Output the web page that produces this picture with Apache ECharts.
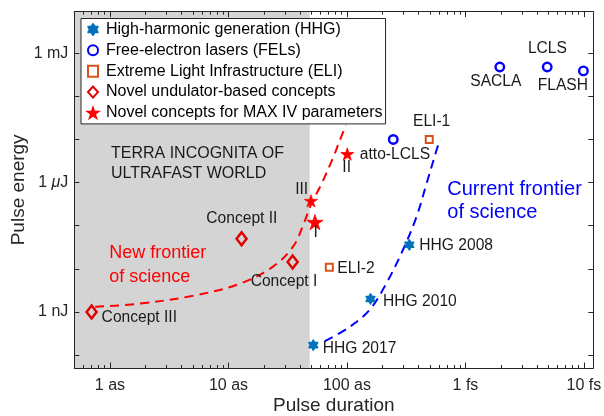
<!DOCTYPE html>
<html><head><meta charset="utf-8">
<script src="https://cdn.jsdelivr.net/npm/echarts@6/dist/echarts.min.js"></script>
<style>html,body{margin:0;padding:0;background:#fff}#c{width:604px;height:416px}</style>
</head><body><div id="c"></div>
<script>
// ---------- data: durations in attoseconds, energies in joules ----------
const hhgNames = ['HHG 2017', 'HHG 2010', 'HHG 2008'];
const hhgDuration = [52, 158, 336];
const hhgEnergy = [1.7e-10, 2.0e-9, 3.6e-8];

const felNames = ['SACLA', 'LCLS', 'FLASH', 'atto-LCLS'];
const felDuration = [1950, 4900, 9900, 246];
const felEnergy = [4.8e-4, 4.8e-4, 3.9e-4, 1.0e-5];

const eliNames = ['ELI-1', 'ELI-2'];
const eliDuration = [495, 71];
const eliEnergy = [1.0e-5, 1.08e-8];

const conceptNames = ['Concept III', 'Concept II', 'Concept I'];
const conceptDuration = [0.7, 12.9, 34.8];
const conceptEnergy = [1.0e-9, 5.0e-8, 1.43e-8];

const maxivNames = ['III', 'I', 'II'];
const maxivDuration = [49.7, 53.7, 100.6];
const maxivEnergy = [3.77e-7, 1.21e-7, 4.6e-6];

const newFrontierDuration = [0.75, 1.8, 5.05, 12.5, 23.9, 35.2, 42.5, 49.7, 61.5, 76.2, 87.3, 98];
const newFrontierEnergy = [1.31e-9, 1.56e-9, 2.38e-9, 4.5e-9, 1.14e-8, 3.3e-8, 1.0e-7, 3.05e-7, 9.8e-7, 3.73e-6, 9.7e-6, 2.15e-5];

const currentFrontierDuration = [65, 103, 156, 216, 298, 387, 471, 571, 610];
const currentFrontierEnergy = [2.1e-10, 4.3e-10, 1.13e-9, 4.7e-9, 2.8e-8, 1.63e-7, 9.7e-7, 5.7e-6, 1.0e-5];

const terraIncognitaUpTo = 48.5; // as

const seriesNames = ['High-harmonic generation (HHG)', 'Free-electron lasers (FELs)',
  'Extreme Light Infrastructure (ELI)', 'Novel undulator-based concepts', 'Novel concepts for MAX IV parameters'];

const xTickValues = [1, 10, 100, 1000, 10000];
const xTickLabels = ['1 as', '10 as', '100 as', '1 fs', '10 fs'];
const yTickValues = [1e-9, 1e-6, 1e-3];
const yTickLabels = ['1 nJ', '1 μJ', '1 mJ'];
const yDecadeTicks = [1e-10, 1e-9, 1e-8, 1e-7, 1e-6, 1e-5, 1e-4, 1e-3];
const xMin = 0.5, xMax = 12000, yMin = 5e-11, yMax = 9.2e-3;

// ---------- presentation ----------
const FONT = '"Liberation Sans", Arial, Helvetica, sans-serif';
const INK = '#262626';
const xMinorTicks = [];
[0.1, 1, 10, 100, 1000, 10000].forEach(d => { for (let k = 2; k <= 9; k++) { const v = d * k; if (v > xMin && v < xMax) xMinorTicks.push(v); } });

const hhgLabelPos = [{a:'left',dx:9.4,dy:4},{a:'left',dx:12.6,dy:2.7},{a:'left',dx:10,dy:0.7}];
const felLabelPos = [{a:'center',dx:-4,dy:15},{a:'center',dx:0.2,dy:-18.4},{a:'center',dx:-20.5,dy:15.3},{a:'center',dx:1.7,dy:15.7}];
const eliLabelPos = [{a:'center',dx:2.4,dy:-17.6},{a:'left',dx:8,dy:1.6}];
const conceptLabelPos = [{a:'left',dx:10,dy:6},{a:'center',dx:0.3,dy:-20},{a:'left',dx:-42,dy:20}];
const maxivLabelPos = [{a:'center',dx:-9.3,dy:-11},{a:'center',dx:0.7,dy:11},{a:'center',dx:-0.6,dy:13.5}];
const maxivSizes = [13, 16, 13];

function items(xs, ys, names, pos, sizes) {
  return xs.map((x, i) => {
    const it = { value: [x, ys[i]], name: names[i],
      label: { show: true, position: 'inside', formatter: '{b}', align: pos[i].a, verticalAlign: 'middle',
        offset: [pos[i].dx, pos[i].dy], fontSize: 15.6, fontFamily: FONT, color: '#1a1a1a' } };
    if (sizes) it.symbolSize = sizes[i];
    return it;
  });
}
function pairs(xs, ys) { return xs.map((x, i) => [x, ys[i]]); }

const hexagram = 'path://M50,0 L64.4,25 L93.3,25 L78.9,50 L93.3,75 L64.4,75 L50,100 L35.6,75 L6.7,75 L21.1,50 L6.7,25 L35.6,25 Z';
const star = 'path://M50,0 L61.2,34.5 L97.6,34.5 L68.2,55.9 L79.4,90.5 L50,69.1 L20.6,90.5 L31.8,55.9 L2.4,34.5 L38.8,34.5 Z';

const lineStyle = { color: INK, width: 1 };
function xAx(pos, major, showLine) {
  return { type: 'log', min: xMin, max: xMax, position: pos, z: 10,
    axisLine: { show: showLine, onZero: false, lineStyle },
    axisTick: { show: true, inside: true, length: major ? 5.5 : 3, customValues: major ? xTickValues : xMinorTicks, lineStyle },
    axisLabel: { show: false }, splitLine: { show: false }, minorTick: { show: false } };
}
const xAxes = [xAx('bottom', true, true), xAx('bottom', false, false), xAx('top', true, true), xAx('top', false, false)];
Object.assign(xAxes[0], {
  axisLabel: { show: true, customValues: xTickValues, margin: 10, fontSize: 16, fontFamily: FONT, color: INK,
    formatter: v => { const i = xTickValues.findIndex(t => Math.abs(t - v) / t < 1e-6); return i >= 0 ? xTickLabels[i] : ''; } },
  name: 'Pulse duration', nameLocation: 'middle', nameGap: 28, nameMoveOverlap: false,
  nameTextStyle: { fontSize: 19, fontFamily: FONT, color: INK }
});
function yAx(pos) {
  return { type: 'log', min: yMin, max: yMax, position: pos, z: 10,
    axisLine: { show: true, onZero: false, lineStyle },
    axisTick: { show: true, inside: true, length: 5, customValues: yDecadeTicks, lineStyle },
    axisLabel: { show: false }, splitLine: { show: false }, minorTick: { show: false } };
}
const yAxes = [yAx('left'), yAx('right')];
Object.assign(yAxes[0], {
  axisLabel: { show: true, customValues: yTickValues, margin: 6, fontSize: 16, fontFamily: FONT, color: INK,
    formatter: v => { const i = yTickValues.findIndex(t => Math.abs(t - v) / t < 1e-6); return i >= 0 ? yTickLabels[i].replace('μ', '{it|μ}') : ''; },
    rich: { it: { fontStyle: 'italic', fontSize: 16, fontFamily: FONT, color: INK } } },
  name: 'Pulse energy', nameLocation: 'middle', nameGap: 46, nameMoveOverlap: false,
  nameTextStyle: { fontSize: 19, fontFamily: FONT, color: INK }
});

const chart = echarts.init(document.getElementById('c'), null, { renderer: 'canvas' });
chart.setOption({
  animation: false,
  backgroundColor: '#fff',
  grid: { left: 74.3, right: 10.7, top: 11.7, bottom: 48, containLabel: false, outerBoundsMode: 'none' },
  xAxis: xAxes,
  yAxis: yAxes,
  legend: {
    data: seriesNames, orient: 'vertical', left: 81, top: 18.5, z: 20,
    backgroundColor: '#fff', borderColor: INK, borderWidth: 1, borderRadius: 0,
    padding: [1, 3, 1, 6], itemGap: 0.85, itemWidth: 10, itemHeight: 11,
    textStyle: { fontSize: 16, fontFamily: FONT, color: '#000', lineHeight: 20, padding: [0, 0, 0, 3] }
  },
  graphic: [
    { type: 'text', z: 5, style: { x: 111, y: 143.3, text: 'TERRA INCOGNITA OF\nULTRAFAST WORLD', font: '16px ' + FONT, lineHeight: 20, fill: '#1a1a1a' } },
    { type: 'text', z: 5, style: { x: 109.3, y: 241.6, text: 'New frontier\nof science', font: '18px ' + FONT, lineHeight: 23.4, fill: '#ff0000' } },
    { type: 'text', z: 5, style: { x: 447.3, y: 178.6, text: 'Current frontier\nof science', font: '20px ' + FONT, lineHeight: 22.7, fill: '#0000ff' } }
  ],
  series: [
    { type: 'line', name: 'new frontier', data: pairs(newFrontierDuration, newFrontierEnergy), smooth: 0.35,
      showSymbol: false, symbol: 'none', silent: true, z: 3,
      lineStyle: { color: '#ff0000', width: 2, type: [9, 6] },
      markArea: { silent: true, z: 1, itemStyle: { color: '#d4d4d4' },
        data: [[{ xAxis: xMin }, { xAxis: terraIncognitaUpTo }]] } },
    { type: 'line', name: 'current frontier', data: pairs(currentFrontierDuration, currentFrontierEnergy), smooth: 0.35,
      showSymbol: false, symbol: 'none', silent: true, z: 3,
      lineStyle: { color: '#0000ff', width: 2, type: [9, 6] } },
    { type: 'scatter', name: seriesNames[0], data: items(hhgDuration, hhgEnergy, hhgNames, hhgLabelPos),
      symbol: hexagram, symbolKeepAspect: true, symbolSize: 10, z: 4,
      itemStyle: { color: '#0072bd', borderColor: '#0072bd', borderWidth: 1.6, borderJoin: 'round', opacity: 1 } },
    { type: 'scatter', name: seriesNames[1], data: items(felDuration, felEnergy, felNames, felLabelPos),
      symbol: 'circle', symbolKeepAspect: true, symbolSize: 8.5, z: 4,
      itemStyle: { color: 'rgba(0,0,0,0)', borderColor: '#0000ff', borderWidth: 2.4, opacity: 1 } },
    { type: 'scatter', name: seriesNames[2], data: items(eliDuration, eliEnergy, eliNames, eliLabelPos),
      symbol: 'rect', symbolKeepAspect: true, symbolSize: 7, z: 4,
      itemStyle: { color: 'rgba(0,0,0,0)', borderColor: '#d95319', borderWidth: 2, opacity: 1 } },
    { type: 'scatter', name: seriesNames[3], data: items(conceptDuration, conceptEnergy, conceptNames, conceptLabelPos),
      symbol: 'diamond', symbolSize: [10, 13], z: 4,
      itemStyle: { color: 'rgba(0,0,0,0)', borderColor: '#e00000', borderWidth: 2.5, opacity: 1 } },
    { type: 'scatter', name: seriesNames[4], data: items(maxivDuration, maxivEnergy, maxivNames, maxivLabelPos, maxivSizes),
      symbol: star, symbolKeepAspect: true, symbolSize: 13, z: 4,
      itemStyle: { color: '#ff0000', borderColor: '#ff0000', borderWidth: 0.8, opacity: 1 } }
  ]
});
</script></body></html>
